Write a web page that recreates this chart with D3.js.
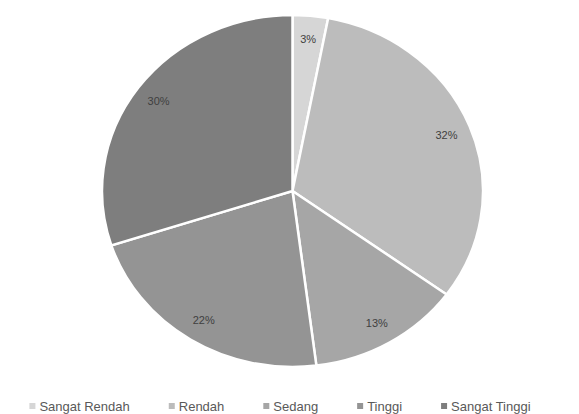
<!DOCTYPE html>
<html><head><meta charset="utf-8">
<script src="https://cdn.jsdelivr.net/npm/d3@7"></script>
<style>body{margin:0;background:#fff;} svg{display:block;}</style>
</head><body>
<svg id="c" width="579" height="414"></svg>
<script>
const categories = ["Sangat Rendah", "Rendah", "Sedang", "Tinggi", "Sangat Tinggi"];
const values = [3, 32, 13, 22, 30];
const labels = ["3%", "32%", "13%", "22%", "30%"];
const colors = ["#d6d6d6", "#bcbcbc", "#a6a6a6", "#949494", "#7e7e7e"];

const svg = d3.select("#c");
const cx = 292.5, cy = 191, ry = 176, rx = 190.5;
const sx = rx / ry;
const pie = d3.pie().sort(null).value(d => d)(values);
const arc = d3.arc().innerRadius(0).outerRadius(ry);
const g = svg.append("g").attr("transform", `translate(${cx},${cy}) scale(${sx},1)`);
g.selectAll("path").data(pie).join("path")
  .attr("d", arc)
  .attr("fill", (d, i) => colors[i])
  .attr("stroke", "#fff")
  .attr("stroke-width", 2.5)
  .attr("vector-effect", "non-scaling-stroke");

const labelArc = d3.arc().innerRadius(153).outerRadius(153);
const lg = svg.append("g").attr("transform", `translate(${cx},${cy})`);
lg.selectAll("text").data(pie).join("text")
  .attr("x", d => labelArc.centroid(d)[0] * sx)
  .attr("y", d => labelArc.centroid(d)[1])
  .attr("text-anchor", "middle")
  .attr("dominant-baseline", "central")
  .attr("font-family", "Liberation Sans, Arial, sans-serif")
  .attr("font-size", 11)
  .attr("fill", "#404040")
  .text((d, i) => labels[i]);

// legend
const leg = svg.append("g");
const items = leg.selectAll("g").data(categories).join("g");
items.append("rect").attr("width", 6).attr("height", 6).attr("y", -3)
  .attr("fill", (d, i) => colors[i]);
items.append("text").attr("x", 10).attr("dominant-baseline", "central")
  .attr("font-family", "Liberation Sans, Arial, sans-serif")
  .attr("font-size", 13).attr("fill", "#595959").text(d => d);
let x = 0; const gap = 39; const widths = [];
items.each(function(){ widths.push(this.querySelector("text").getComputedTextLength() + 10); });
const total = d3.sum(widths) + gap * (widths.length - 1);
let start = 280 - total / 2;
items.attr("transform", (d, i) => { const t = `translate(${start + x},406)`; x += widths[i] + gap; return t; });
</script>
</body></html>
